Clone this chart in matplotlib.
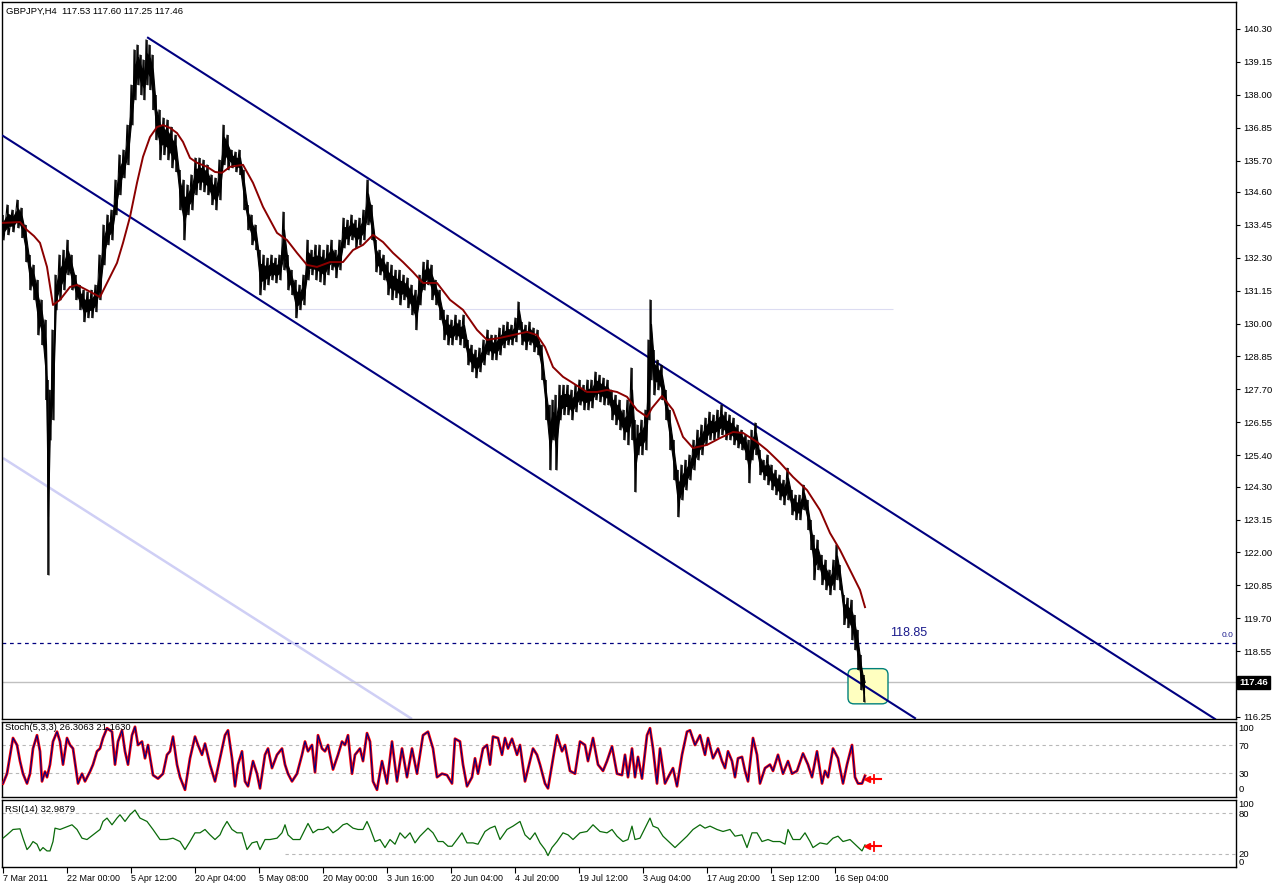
import matplotlib
matplotlib.use('Agg')
import matplotlib.pyplot as plt
import matplotlib.transforms as mtransforms
from matplotlib.patches import FancyBboxPatch

plt.rcParams['font.family'] = ['Liberation Sans', 'DejaVu Sans']

# ---------------- data ----------------
title_text = "GBPJPY,H4  117.53 117.60 117.25 117.46"
stoch_title = "Stoch(5,3,3) 26.3063 21.1630"
rsi_title = "RSI(14) 32.9879"

px_bar = [3, 8, 13, 18, 22, 26, 30, 34, 38, 42,
          46, 48, 50, 53, 56, 60, 64, 68, 72, 76,
          80, 84, 88, 92, 96, 100, 104, 108, 112, 116,
          120, 124, 128, 132, 135, 138, 141, 144, 147, 150,
          153, 156, 160, 164, 168, 172, 176, 180, 184, 188,
          192, 196, 200, 204, 208, 212, 216, 220, 224, 228,
          232, 236, 240, 244, 248, 252, 256, 260, 264, 268,
          272, 276, 280, 284, 288, 292, 296, 300, 304, 308,
          312, 316, 320, 324, 328, 332, 336, 340, 344, 348,
          352, 356, 360, 364, 368, 372, 376, 380, 384, 388,
          392, 396, 400, 404, 408, 412, 416, 420, 424, 428,
          432, 436, 440, 444, 448, 452, 456, 460, 464, 468,
          472, 476, 480, 484, 488, 492, 496, 500, 504, 508,
          512, 516, 519, 522, 526, 530, 534, 538, 542, 546,
          550, 553, 556, 560, 564, 568, 572, 576, 580, 584,
          588, 592, 596, 600, 604, 608, 612, 616, 620, 624,
          628, 632, 635, 638, 642, 646, 649, 651, 654, 658,
          662, 666, 670, 674, 678, 682, 686, 690, 694, 698,
          702, 706, 710, 714, 718, 722, 726, 730, 734, 738,
          742, 746, 749, 752, 756, 760, 764, 768, 772, 776,
          780, 784, 788, 792, 796, 800, 804, 808, 811, 814,
          818, 822, 826, 830, 834, 837, 840, 844, 848, 852,
          855, 858, 861, 864]

px_high = [133.80, 134.15, 133.97, 134.32, 134.04, 133.45, 132.40, 132.05, 131.52, 130.83,
           130.13, 128.03, 127.68, 129.78, 131.70, 132.40, 132.57, 132.92, 132.40, 131.70,
           131.35, 131.17, 131.11, 131.17, 131.35, 132.40, 133.45, 133.80, 133.97, 135.02,
           135.90, 136.07, 136.94, 138.34, 139.57, 139.74, 139.39, 139.22, 139.92, 139.74,
           139.39, 137.99, 137.47, 137.19, 137.12, 136.87, 136.59, 135.37, 135.02, 134.85,
           135.20, 135.79, 135.79, 135.72, 135.55, 135.20, 135.09, 135.72, 136.94, 136.59,
           136.07, 136.00, 136.07, 135.37, 134.15, 133.80, 133.45, 132.57, 132.40, 132.29,
           132.40, 132.29, 132.40, 133.90, 132.40, 131.87, 131.52, 131.35, 131.70, 132.92,
           132.57, 132.75, 132.75, 132.57, 132.75, 132.92, 132.57, 132.92, 133.69, 133.62,
           133.80, 133.62, 133.69, 133.97, 135.02, 134.15, 132.92, 132.57, 132.40, 132.15,
           132.05, 131.87, 131.87, 131.70, 131.60, 131.35, 131.17, 131.70, 132.15, 132.22,
           132.05, 131.52, 131.17, 130.48, 130.30, 130.13, 130.30, 130.13, 130.30, 129.43,
           129.25, 129.08, 129.15, 129.43, 129.78, 129.60, 129.60, 129.85, 129.95, 130.06,
           129.95, 130.20, 130.76, 130.06, 129.95, 130.06, 129.85, 129.78, 129.25, 128.03,
           127.15, 127.33, 127.50, 127.85, 127.85, 127.85, 127.68, 127.85, 128.03, 127.85,
           128.03, 128.03, 128.31, 128.20, 128.10, 128.03, 127.68, 127.50, 127.33, 126.98,
           127.33, 128.45, 126.63, 126.46, 126.63, 126.98, 129.43, 130.83, 129.08, 128.73,
           128.55, 127.68, 126.98, 125.93, 124.88, 125.06, 125.23, 125.41, 125.93, 126.28,
           126.46, 126.70, 126.91, 126.81, 126.98, 127.15, 126.91, 126.81, 126.70, 126.46,
           126.28, 126.11, 125.93, 126.28, 126.53, 125.58, 125.23, 125.41, 125.06, 124.88,
           124.71, 124.53, 124.95, 124.18, 124.01, 124.01, 124.36, 123.83, 123.14, 122.61,
           122.44, 121.91, 121.74, 121.39, 121.74, 122.26, 121.56, 120.52, 120.41, 120.34,
           119.81, 119.29, 118.42, 117.71]

px_low = [132.92, 133.10, 133.20, 133.34, 133.00, 132.15, 131.17, 130.83, 129.60, 129.25,
          127.33, 121.21, 125.93, 126.63, 130.48, 130.83, 131.17, 131.70, 131.17, 130.83,
          130.48, 130.06, 130.20, 130.20, 130.41, 130.83, 132.05, 132.75, 132.92, 133.80,
          134.50, 135.09, 135.55, 136.94, 137.82, 138.34, 137.99, 137.82, 138.34, 138.17,
          137.47, 136.42, 135.72, 135.90, 135.72, 135.44, 135.30, 133.97, 132.92, 133.80,
          133.97, 134.50, 134.67, 134.60, 134.50, 134.15, 133.97, 134.32, 135.55, 135.37,
          135.44, 135.30, 135.20, 133.97, 133.27, 132.75, 132.57, 131.00, 131.17, 131.35,
          131.52, 131.42, 131.52, 131.87, 131.17, 131.00, 130.20, 130.48, 130.65, 131.52,
          131.70, 131.52, 131.45, 131.35, 131.70, 131.87, 131.60, 131.87, 132.64, 132.75,
          132.92, 132.64, 132.75, 132.92, 133.45, 132.92, 131.80, 131.70, 131.52, 131.00,
          130.83, 130.90, 130.65, 130.83, 130.55, 130.30, 129.78, 130.65, 131.17, 131.35,
          130.83, 130.65, 130.13, 129.43, 129.25, 129.25, 129.43, 129.25, 129.15, 128.55,
          128.31, 128.10, 128.31, 128.55, 128.90, 128.73, 128.73, 128.90, 129.15, 129.25,
          129.25, 129.36, 129.78, 129.25, 129.08, 129.25, 129.01, 128.90, 128.03, 126.63,
          124.88, 125.93, 124.88, 126.63, 126.81, 126.81, 126.63, 126.91, 127.15, 126.98,
          126.98, 127.05, 127.33, 127.26, 127.15, 127.15, 126.63, 126.46, 126.28, 125.93,
          125.76, 125.93, 124.11, 125.41, 125.41, 125.58, 126.63, 128.03, 127.50, 127.68,
          127.33, 126.63, 125.58, 124.53, 123.24, 123.83, 124.18, 124.53, 124.88, 125.23,
          125.41, 125.76, 125.93, 125.93, 126.00, 126.11, 125.93, 125.93, 125.76, 125.65,
          125.58, 125.23, 124.43, 125.23, 125.41, 124.71, 124.53, 124.36, 124.18, 124.01,
          123.83, 123.66, 123.83, 123.31, 123.14, 123.14, 123.48, 122.79, 122.09, 121.04,
          121.39, 120.87, 120.69, 120.52, 120.69, 121.04, 120.69, 119.48, 119.37, 118.94,
          118.59, 117.89, 117.19, 116.77]

last_bar_high = 117.60
last_bar_close = 117.46

ma_bar = [3, 20, 27, 34, 40, 47, 53, 60, 70, 77, 87, 100, 110, 117, 123, 130, 137, 143,
          150, 157, 163, 170, 177, 183, 190, 197, 207, 215, 222, 230, 243, 253, 263, 277,
          287, 297, 307, 317, 330, 343, 353, 363, 373, 383, 393, 403, 413, 423, 437, 450,
          463, 477, 487, 500, 513, 527, 537, 545, 553, 563, 573, 587, 597, 607, 617, 627,
          637, 647, 652, 662, 673, 683, 693, 707, 720, 733, 743, 757, 767, 780, 793, 807,
          820, 830, 840, 850, 860, 865]
ma_val = [133.52, 133.55, 133.27, 133.06, 132.82, 131.98, 130.65, 130.83, 131.28, 131.35,
          131.17, 130.93, 131.63, 132.12, 132.82, 133.73, 134.92, 135.83, 136.52, 136.87,
          136.94, 136.84, 136.66, 136.35, 135.79, 135.62, 135.48, 135.30, 135.27, 135.48,
          135.55, 134.92, 134.08, 133.17, 132.92, 132.47, 132.05, 131.98, 132.15, 132.15,
          132.57, 132.75, 133.10, 132.85, 132.47, 132.15, 131.80, 131.42, 131.42, 130.83,
          130.48, 129.78, 129.43, 129.50, 129.60, 129.71, 129.60, 129.18, 128.48, 128.14,
          127.92, 127.61, 127.61, 127.68, 127.61, 127.44, 126.98, 126.74, 127.05, 127.47,
          126.98, 126.04, 125.65, 125.76, 126.00, 126.21, 126.18, 125.86, 125.58, 125.14,
          124.64, 124.18, 123.48, 122.68, 122.09, 121.39, 120.69, 120.09]

# channel / trend lines: (start bar, end bar) and (start price, end price)
trend_bars = [[148, 1215], [3, 915], [3, 412]]
trend_prices = [[139.99, 116.18], [136.56, 116.21], [125.30, 116.18]]

level_price = 118.85
last_price = 117.46
support_price = 130.51
support_bars = [57, 893]
box_bars = [848, 888]
box_prices = [116.71, 117.94]

price_ticks = [140.30, 139.15, 138.00, 136.85, 135.70, 134.60, 133.45, 132.30, 131.15,
               130.00, 128.85, 127.70, 126.55, 125.40, 124.30, 123.15, 122.00, 120.85,
               119.70, 118.55, 116.25]

date_bars = [3, 67, 131, 195, 259, 323, 387, 451, 515, 579, 643, 707, 771, 835]
date_labels = ["7 Mar 2011", "22 Mar 00:00", "5 Apr 12:00", "20 Apr 04:00", "5 May 08:00",
               "20 May 00:00", "3 Jun 16:00", "20 Jun 04:00", "4 Jul 20:00", "19 Jul 12:00",
               "3 Aug 04:00", "17 Aug 20:00", "1 Sep 12:00", "16 Sep 04:00"]

stoch_bar = [3, 7, 13, 17, 20, 23, 27, 30, 33, 37, 40, 42, 45, 47, 50, 53, 57, 60, 63, 67,
             70, 73, 78, 82, 85, 90, 93, 97, 100, 103, 107, 112, 115, 118, 122, 125, 128, 132,
             135, 138, 142, 145, 148, 153, 158, 163, 167, 170, 173, 177, 180, 185, 190, 195,
             198, 202, 205, 210, 215, 220, 225, 228, 232, 235, 238, 242, 245, 248, 253, 257,
             260, 265, 268, 272, 277, 282, 285, 288, 292, 297, 302, 305, 308, 312, 315, 318,
             322, 325, 328, 333, 338, 342, 345, 348, 352, 355, 360, 363, 367, 370, 373, 377,
             382, 387, 392, 397, 402, 407, 412, 417, 423, 428, 433, 437, 442, 447, 452, 455,
             460, 463, 467, 472, 475, 478, 483, 487, 490, 493, 498, 502, 505, 508, 512, 517,
             520, 525, 530, 533, 537, 540, 545, 548, 552, 557, 562, 565, 570, 575, 580, 585,
             588, 593, 598, 603, 607, 612, 617, 622, 625, 628, 632, 635, 638, 642, 647, 650,
             653, 657, 660, 665, 670, 673, 677, 682, 687, 690, 695, 700, 705, 708, 713, 718,
             722, 725, 728, 732, 735, 738, 742, 745, 748, 753, 757, 760, 765, 770, 773, 778,
             783, 788, 792, 797, 803, 808, 812, 817, 822, 825, 828, 833, 838, 843, 847, 852,
             855, 858, 862, 865]
stoch_k = [15, 29, 80, 70, 47, 29, 15, 29, 65, 84, 61, 18, 32, 24, 42, 75, 89, 75, 42, 80,
           70, 65, 15, 29, 18, 32, 42, 61, 65, 80, 94, 89, 42, 75, 91, 61, 42, 84,
           96, 70, 75, 51, 70, 27, 22, 29, 56, 61, 82, 42, 24, 6, 51, 82,
           70, 56, 72, 42, 18, 51, 84, 91, 51, 11, 42, 61, 18, 11, 47, 29,
           8, 56, 65, 37, 56, 65, 42, 29, 18, 29, 56, 75, 61, 70, 31, 84,
           65, 61, 70, 35, 56, 75, 70, 84, 29, 56, 65, 47, 87, 75, 18, 6,
           47, 15, 75, 18, 65, 24, 65, 29, 84, 89, 65, 24, 29, 27, 15, 79,
           75, 42, 11, 24, 51, 29, 65, 70, 42, 82, 80, 56, 80, 65, 79, 56,
           70, 18, 47, 65, 56, 42, 15, 8, 42, 84, 61, 70, 33, 29, 75, 70,
           47, 80, 42, 33, 47, 68, 29, 27, 56, 24, 65, 24, 53, 22, 84, 94,
           65, 15, 65, 15, 29, 37, 11, 56, 89, 91, 70, 84, 56, 80, 51, 65,
           47, 37, 61, 47, 24, 51, 53, 33, 18, 80, 56, 15, 37, 42, 33, 56,
           29, 47, 29, 33, 58, 42, 24, 61, 15, 33, 24, 65, 51, 15, 42, 70,
           24, 15, 15, 26]
stoch_signal_last = 21.16

rsi_bar = [3, 7, 13, 20, 23, 27, 30, 33, 37, 40, 43, 47, 50, 53, 55, 60, 67, 72, 77, 82,
           87, 93, 100, 103, 107, 112, 117, 120, 125, 130, 135, 140, 147, 153, 160, 167, 173,
           180, 185, 190, 195, 200, 205, 210, 215, 220, 223, 227, 232, 237, 242, 247, 252,
           257, 260, 265, 270, 277, 282, 285, 288, 293, 300, 305, 308, 313, 318, 323, 328,
           333, 338, 343, 347, 353, 358, 363, 367, 370, 375, 380, 385, 390, 395, 400, 405,
           410, 415, 420, 428, 433, 438, 443, 448, 452, 457, 462, 467, 473, 478, 485, 490,
           495, 500, 507, 513, 520, 525, 530, 535, 540, 545, 548, 552, 557, 563, 568, 573,
           580, 587, 593, 600, 607, 612, 617, 623, 628, 632, 635, 640, 645, 650, 653, 658,
           663, 670, 675, 680, 687, 693, 700, 705, 710, 717, 723, 730, 735, 742, 747, 752,
           757, 762, 768, 773, 780, 785, 788, 793, 800, 805, 810, 813, 820, 827, 833, 838,
           843, 850, 857, 862, 865]
rsi_val = [43, 48, 56, 57, 43, 26, 31, 38, 34, 24, 29, 24, 24, 38, 58, 56, 60, 63, 56, 43,
           41, 48, 56, 68, 73, 63, 73, 78, 68, 78, 85, 73, 68, 56, 41, 41, 43,
           38, 26, 38, 51, 51, 56, 48, 41, 48, 58, 68, 56, 51, 51, 26, 36,
           38, 26, 41, 41, 43, 51, 63, 48, 41, 41, 56, 65, 51, 56, 56, 60,
           51, 56, 63, 65, 58, 56, 56, 68, 58, 38, 41, 29, 41, 34, 51, 43,
           51, 36, 46, 58, 51, 38, 38, 31, 31, 41, 51, 36, 36, 34, 53, 58,
           61, 41, 56, 61, 68, 48, 41, 51, 36, 26, 17, 29, 38, 51, 48, 41,
           51, 53, 63, 53, 51, 56, 46, 38, 41, 61, 41, 43, 58, 73, 61, 58,
           46, 36, 29, 36, 46, 56, 63, 58, 61, 56, 53, 56, 46, 48, 29, 51,
           51, 38, 41, 38, 38, 34, 56, 41, 41, 51, 38, 29, 36, 34, 43, 46,
           38, 41, 31, 24, 33]
rsi_marker_value = 31

stoch_ticks = [100, 70, 30, 0]
rsi_ticks = [100, 80, 20, 0]

# ---------------- layout ----------------
W, H = 1274, 885
fig = plt.figure(figsize=(W / 100, H / 100), dpi=100)
fig.patch.set_facecolor('white')

left = 2 / W
width = 1234 / W
ax = fig.add_axes([left, 1 - 719 / H, width, 717 / H])
ax_st = fig.add_axes([left, 1 - 797 / H, width, 75 / H])
ax_rsi = fig.add_axes([left, 1 - 867 / H, width, 67 / H])

NAVY = '#000080'
TICK_FS = 6.8
TITLE_FS = 6.8
for a in (ax, ax_st, ax_rsi):
    a.set_xlim(2, 1236)
    for s in a.spines.values():
        s.set_color('black')
        s.set_linewidth(1.0)
    a.yaxis.tick_right()
    a.tick_params(axis='y', direction='out', length=3, width=0.8, pad=2,
                  labelsize=TICK_FS, colors='black')
    a.set_facecolor('white')

# ---------------- main price panel ----------------
ax.set_ylim(116.18, 141.24)
ax.set_xticks([])

ax.plot(trend_bars[2], trend_prices[2], color='#CFCFF5', lw=1.8, zorder=1,
        solid_capstyle='butt')
ax.hlines(support_price, support_bars[0], support_bars[1], color='#DCDCF2', lw=0.8, zorder=1)
ax.axhline(level_price, color=NAVY, lw=0.9, ls=(0, (3, 3)), zorder=2)
ax.axhline(last_price, color='#C0C0C0', lw=1.0, zorder=1)

box = FancyBboxPatch((box_bars[0], box_prices[0]), box_bars[1] - box_bars[0],
                     box_prices[1] - box_prices[0],
                     boxstyle='round,pad=0,rounding_size=6',
                     mutation_aspect=1 / 28.6,
                     facecolor='#FFFFC0', edgecolor='#00807A', lw=1.0, zorder=2)
ax.add_patch(box)

ax.plot(trend_bars[0], trend_prices[0], color=NAVY, lw=1.5, zorder=4)
ax.plot(trend_bars[1], trend_prices[1], color=NAVY, lw=1.5, zorder=4)

# price bars: dense core plus jagged high/low strokes
core_lo = [l + 0.3 * (h - l) for h, l in zip(px_high, px_low)]
core_hi = [h - 0.3 * (h - l) for h, l in zip(px_high, px_low)]
ax.fill_between(px_bar, core_lo, core_hi, color='black', lw=0.8, zorder=5)
ax.vlines(px_bar, px_low, px_high, color='black', lw=1.1, zorder=5)
zx, zy = [], []
for b, h, l in zip(px_bar, px_high, px_low):
    zx += [b - 1, b + 1]
    zy += [h, l]
ax.plot(zx, zy, color='black', lw=0.8, zorder=5)
ax.plot([px_bar[-1], px_bar[-1] + 1], [last_bar_high, last_bar_close],
        color='black', lw=1.0, zorder=5)

ax.plot(ma_bar, ma_val, color='#8B0000', lw=1.4, zorder=6)

ax.text(890, 119.19, "118.85", color='#1A1A8C', fontsize=9, va='center', ha='left')
ax.text(1234, 119.09, "0.0", color='#1A1A8C', fontsize=6, va='center', ha='right')

ax.set_yticks(price_ticks)
ax.set_yticklabels([f"{v:.2f}" for v in price_ticks])

trans = mtransforms.blended_transform_factory(ax.transAxes, ax.transData)
ax.text(1.0025, last_price, f"{last_price:.2f}", transform=trans, color='white',
        fontsize=TICK_FS, va='center', ha='left', fontweight='bold',
        bbox=dict(boxstyle='square,pad=0.25', facecolor='black', edgecolor='black'))

fig.text(6 / W, 1 - 11 / H, title_text, fontsize=TITLE_FS, va='center', ha='left',
         color='black')

# ---------------- stochastic panel ----------------
ax_st.set_ylim(-4.3, 102.9)
ax_st.set_xticks([])
for lv in (70, 30):
    ax_st.axhline(lv, color='#B8B8B8', lw=0.8, ls=(0, (3, 3)))
ax_st.plot(stoch_bar, stoch_k, color='#FF0000', lw=2.0, zorder=3)
ax_st.plot(stoch_bar, stoch_k, color=NAVY, lw=0.8, zorder=4)
ax_st.set_yticks(stoch_ticks)
ax_st.set_yticklabels([str(v) for v in stoch_ticks])
tl = ax_st.get_yticklabels()
tl[0].set_va('top')
tl[-1].set_va('bottom')
ax_st.tick_params(axis='y', length=0)
ax_st.text(5, 95, stoch_title, fontsize=TITLE_FS, va='center', ha='left', zorder=6)


def value_marker(a, value, half):
    a.plot([867, 881], [value, value], color='red', lw=1.5, zorder=7)
    a.plot([867], [value], marker='<', color='red', markersize=5, zorder=7)
    a.plot([874, 874], [value - half, value + half], color='red', lw=1.3, zorder=7)


value_marker(ax_st, stoch_signal_last, 6)

# ---------------- RSI panel ----------------
ax_rsi.set_ylim(0, 100)
ax_rsi.axhline(80, color='#B8B8B8', lw=0.8, ls=(0, (3, 3)))
ax_rsi.hlines(20, 285, 1236, color='#B8B8B8', lw=0.8, ls=(0, (3, 3)))
ax_rsi.plot(rsi_bar, rsi_val, color='#0A6A0A', lw=0.9, zorder=3)
ax_rsi.set_yticks(rsi_ticks)
ax_rsi.set_yticklabels([str(v) for v in rsi_ticks])
tl = ax_rsi.get_yticklabels()
tl[0].set_va('top')
tl[-1].set_va('bottom')
ax_rsi.tick_params(axis='y', length=0)
ax_rsi.text(5, 86, rsi_title, fontsize=TITLE_FS, va='center', ha='left', zorder=6)
value_marker(ax_rsi, rsi_marker_value, 7)

ax_rsi.set_xticks(date_bars)
ax_rsi.set_xticklabels(date_labels)
ax_rsi.tick_params(axis='x', direction='out', length=4, width=0.8, pad=1,
                   labelsize=6.4, colors='black')
for t in ax_rsi.get_xticklabels():
    t.set_ha('left')

fig.savefig('out.png', dpi=100, facecolor='white')
